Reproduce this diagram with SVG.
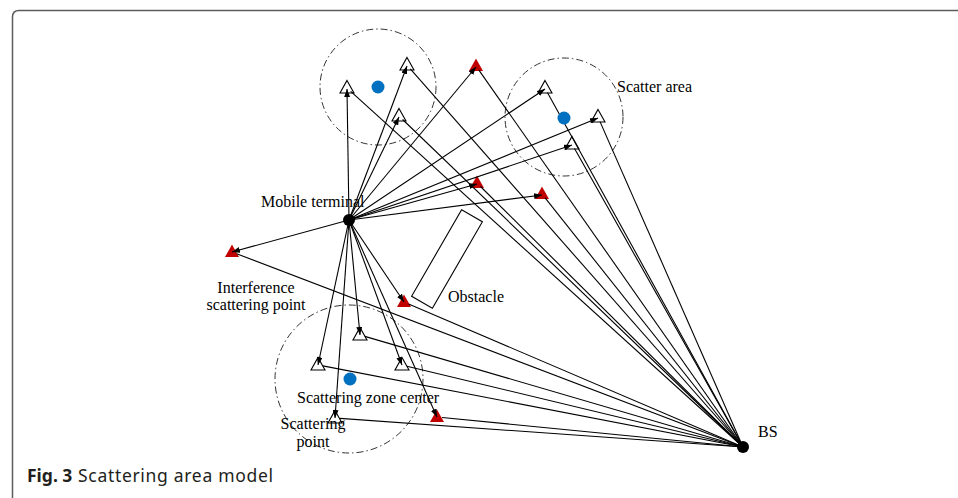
<svg xmlns="http://www.w3.org/2000/svg" width="958" height="498" viewBox="0 0 958 498">
  <defs>
    <marker id="arrow" markerUnits="userSpaceOnUse" markerWidth="8" markerHeight="6" refX="8" refY="3" orient="auto">
      <path d="M0,0 L8,3 L0,6 Z" fill="#000"/>
    </marker>
    <polygon id="tri" points="0,-7.5 7,5 -7,5"/>
  </defs>
  <style>
    .frame { fill: none; stroke: #5c5c5c; stroke-width: 1.5; }
    .zone { fill: none; stroke: #333; stroke-width: 1; stroke-dasharray: 7 3 1.5 3; }
    .center { fill: #0070c0; }
    .hollow { fill: #fff; stroke: #000; stroke-width: 1.1; }
    .interf { fill: #c00000; }
    .terminal { fill: #000; }
    .obstacle { fill: #fff; stroke: #000; stroke-width: 1.1; }
    .link { stroke: #000; stroke-width: 1.1; fill: none; }
    .tx { stroke: #000; stroke-width: 1.1; fill: none; marker-end: url(#arrow); }
    .lbl { font-family: "Liberation Serif", "Times New Roman", serif; font-size: 16px; fill: #000; }
    .cap { font-family: "Noto Sans", "Open Sans", sans-serif; font-size: 17.5px; fill: #231f20; }
  </style>

  <rect width="958" height="498" fill="#fff"/>
  <!-- figure frame -->
  <path class="frame" d="M12.5,498 V17 Q12.5,10.5 19,10.5 H958"/>

  <!-- scatter areas -->
  <g id="area-top-left"><circle class="zone" cx="378" cy="87" r="58"/></g>
  <g id="area-top-right"><circle class="zone" cx="564" cy="117" r="59"/></g>
  <g id="area-bottom"><circle class="zone" cx="349" cy="379" r="74"/></g>

  <!-- obstacle -->
  <g id="obstacle"><rect class="obstacle" x="-12" y="-50" width="24" height="100" transform="translate(447,259) rotate(30)"/></g>

  <!-- scattering points -->
  <g id="sp-t1"><use href="#tri" class="hollow" x="347" y="88"/></g>
  <g id="sp-t2"><use href="#tri" class="hollow" x="407" y="65"/></g>
  <g id="sp-t3"><use href="#tri" class="hollow" x="399" y="116"/></g>
  <g id="sp-t4"><use href="#tri" class="hollow" x="545" y="88"/></g>
  <g id="sp-t5"><use href="#tri" class="hollow" x="598" y="117"/></g>
  <g id="sp-t6"><use href="#tri" class="hollow" x="572" y="144"/></g>
  <g id="sp-t7"><use href="#tri" class="hollow" x="360" y="335"/></g>
  <g id="sp-t8"><use href="#tri" class="hollow" x="318" y="365"/></g>
  <g id="sp-t9"><use href="#tri" class="hollow" x="402" y="365"/></g>
  <g id="sp-t10"><use href="#tri" class="hollow" x="335" y="418"/></g>

  <!-- interference scattering points -->
  <g id="ip-r1"><use href="#tri" class="interf" x="476" y="66"/></g>
  <g id="ip-r2"><use href="#tri" class="interf" x="477" y="183"/></g>
  <g id="ip-r3"><use href="#tri" class="interf" x="542" y="194"/></g>
  <g id="ip-r4"><use href="#tri" class="interf" x="232" y="252"/></g>
  <g id="ip-r5"><use href="#tri" class="interf" x="404" y="302"/></g>
  <g id="ip-r6"><use href="#tri" class="interf" x="437" y="417"/></g>

  <!-- propagation paths -->
  <g id="connectors">
    <!-- terminal to scatterers -->
    <line class="tx" x1="349" y1="220" x2="347" y2="89"/>
    <line class="tx" x1="349" y1="220" x2="407" y2="66"/>
    <line class="tx" x1="349" y1="220" x2="399" y2="117"/>
    <line class="tx" x1="349" y1="220" x2="476" y2="67"/>
    <line class="tx" x1="349" y1="220" x2="545" y2="89"/>
    <line class="tx" x1="349" y1="220" x2="598" y2="118"/>
    <line class="tx" x1="349" y1="220" x2="572" y2="145"/>
    <line class="tx" x1="349" y1="220" x2="477" y2="184"/>
    <line class="tx" x1="349" y1="220" x2="542" y2="195"/>
    <line class="tx" x1="349" y1="220" x2="232" y2="252"/>
    <line class="tx" x1="349" y1="220" x2="404" y2="302"/>
    <line class="tx" x1="349" y1="220" x2="360" y2="335"/>
    <line class="tx" x1="349" y1="220" x2="318" y2="365"/>
    <line class="tx" x1="349" y1="220" x2="402" y2="365"/>
    <line class="tx" x1="349" y1="220" x2="335" y2="418"/>
    <line class="tx" x1="349" y1="220" x2="437" y2="417"/>
    <!-- scatterers to base station -->
    <line class="link" x1="350.7" y1="91.4" x2="743" y2="447"/>
    <line class="link" x1="410.3" y1="68.8" x2="743" y2="447"/>
    <line class="link" x1="402.6" y1="119.5" x2="743" y2="447"/>
    <line class="link" x1="478.9" y1="70.1" x2="743" y2="447"/>
    <line class="link" x1="547.4" y1="92.4" x2="743" y2="447"/>
    <line class="link" x1="600" y1="121.6" x2="743" y2="447"/>
    <line class="link" x1="574.5" y1="148.4" x2="743" y2="447"/>
    <line class="link" x1="480.5" y1="186.5" x2="743" y2="447"/>
    <line class="link" x1="545.1" y1="197.9" x2="743" y2="447"/>
    <line class="link" x1="236.7" y1="253.8" x2="743" y2="447"/>
    <line class="link" x1="408.6" y1="304" x2="743" y2="447"/>
    <line class="link" x1="364.8" y1="336.4" x2="743" y2="447"/>
    <line class="link" x1="322.9" y1="365.9" x2="743" y2="447"/>
    <line class="link" x1="406.9" y1="366.2" x2="743" y2="447"/>
    <line class="link" x1="340" y1="418.4" x2="743" y2="447"/>
    <line class="link" x1="442" y1="417.5" x2="743" y2="447"/>
  </g>

  <!-- scattering zone centers -->
  <g id="center-top-left"><circle class="center" cx="378" cy="87" r="6.5"/></g>
  <g id="center-top-right"><circle class="center" cx="564" cy="118" r="6.5"/></g>
  <g id="center-bottom"><circle class="center" cx="350" cy="379" r="6.5"/></g>

  <!-- terminal and base station -->
  <g id="mobile-terminal"><circle class="terminal" cx="349" cy="220" r="6"/></g>
  <g id="base-station"><circle class="terminal" cx="743" cy="447" r="6"/></g>

  <!-- labels -->
  <g id="labels">
    <text class="lbl" x="617" y="92">Scatter area</text>
    <text class="lbl" x="261" y="207">Mobile terminal</text>
    <text class="lbl" x="256" y="293" text-anchor="middle">Interference</text>
    <text class="lbl" x="256" y="310" text-anchor="middle">scattering point</text>
    <text class="lbl" x="448" y="302">Obstacle</text>
    <text class="lbl" x="297" y="403">Scattering zone center</text>
    <text class="lbl" x="313" y="429" text-anchor="middle">Scattering</text>
    <text class="lbl" x="313" y="447" text-anchor="middle">point</text>
    <text class="lbl" x="758" y="437">BS</text>
  </g>

  <!-- caption -->
  <text class="cap" y="482"><tspan x="27" font-weight="bold">Fig. 3</tspan><tspan x="78" textLength="195" lengthAdjust="spacing">Scattering area model</tspan></text>
</svg>
